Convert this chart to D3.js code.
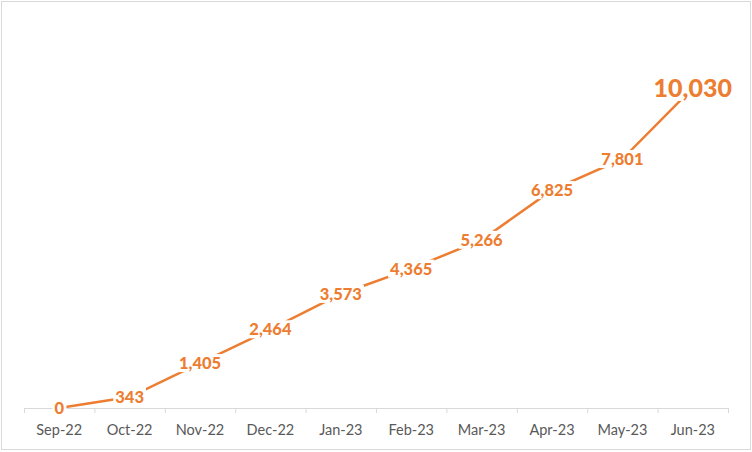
<!DOCTYPE html>
<html>
<head>
<meta charset="utf-8">
<script src="https://cdn.jsdelivr.net/npm/d3@7"></script>
<style>
  body { margin: 0; background: #fff; }
  svg { display: block; font-family: Lato, "Liberation Sans", sans-serif; }
</style>
</head>
<body>
<svg width="752" height="452"></svg>
<script>
// data
const months = ['Sep-22', 'Oct-22', 'Nov-22', 'Dec-22', 'Jan-23', 'Feb-23', 'Mar-23', 'Apr-23', 'May-23', 'Jun-23'];
const counts = [0, 343, 1405, 2464, 3573, 4365, 5266, 6825, 7801, 10030];

const svg = d3.select('svg');
const width = +svg.attr('width');
const height = +svg.attr('height');
const orange = '#ED7D31';

// chart border
svg.append('rect')
  .attr('x', 1.5).attr('y', 1.5)
  .attr('width', width - 3).attr('height', height - 4)
  .attr('fill', '#fff')
  .attr('stroke', '#d9d9d9');

const margin = {top: 25, right: 24, bottom: 44, left: 24};
const x = d3.scaleBand()
  .domain(months)
  .range([margin.left, width - margin.right])
  .padding(0);
const y = d3.scaleLinear()
  .domain([0, 12000])
  .range([height - margin.bottom, margin.top]);

const data = months.map((m, i) => ({month: m, value: counts[i]}));
const xPos = d => x(d.month) + x.bandwidth() / 2;

// x axis: boundary ticks
const edges = d3.scaleLinear().domain([0, months.length]).range(x.range());
const tickAxis = svg.append('g')
  .attr('transform', `translate(0,${y(0)})`)
  .call(d3.axisBottom(edges).tickValues(d3.range(months.length + 1)).tickSize(5).tickFormat(''));
tickAxis.selectAll('line, path').attr('stroke', '#d9d9d9');

// x axis: labels
const labelAxis = svg.append('g')
  .attr('transform', `translate(0,${y(0)})`)
  .call(d3.axisBottom(x).tickSize(0).tickPadding(17));
labelAxis.select('.domain').remove();
labelAxis.selectAll('text')
  .attr('fill', '#595959')
  .style('font-size', '14.5px')
  .style('font-family', 'Lato, "Liberation Sans", sans-serif');

// line
svg.append('path')
  .datum(data)
  .attr('fill', 'none')
  .attr('stroke', orange)
  .attr('stroke-width', 2.5)
  .attr('d', d3.line().x(xPos).y(d => y(d.value)));

// data labels with white boxes
const labels = svg.append('g').selectAll('g')
  .data(data)
  .enter().append('g')
  .attr('transform', d => `translate(${xPos(d)},${y(d.value)})`);

labels.append('text')
  .attr('text-anchor', 'middle')
  .attr('dy', '0.36em')
  .attr('fill', orange)
  .attr('font-weight', 900)
  .style('font-size', (d, i) => i === data.length - 1 ? '25px' : '16.5px')
  .text(d => d3.format(',')(d.value));

labels.each(function() {
  const g = d3.select(this);
  const b = g.select('text').node().getBBox();
  g.insert('rect', 'text')
    .attr('x', b.x - 2).attr('y', b.y + 1)
    .attr('width', b.width + 4).attr('height', b.height - 2)
    .attr('fill', '#fff');
});
</script>
</body>
</html>
